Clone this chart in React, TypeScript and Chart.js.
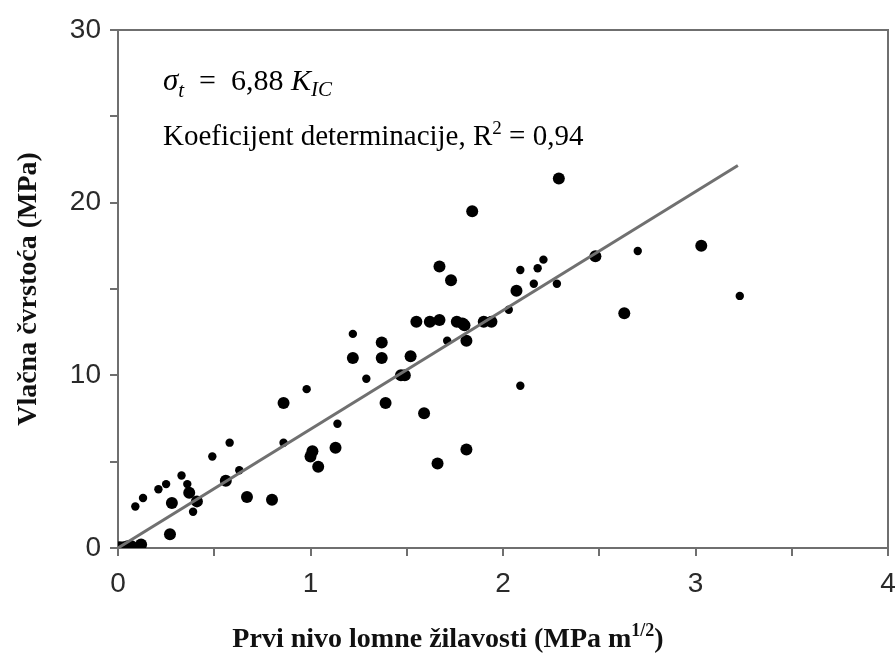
import React, { useEffect, useRef } from "react";
import { Chart, registerables } from "chart.js";

Chart.register(...registerables);

// Large markers
const bigX = [0.01, 0.03, 0.05, 0.07, 0.12, 0.27, 0.28, 0.37, 0.41, 0.56, 0.67, 0.8, 0.86, 1.01, 1.0, 1.04, 1.13, 1.22, 1.37, 1.37, 1.39, 1.52, 1.47, 1.49, 1.59, 1.55, 1.62, 1.67, 1.76, 1.79, 1.8, 1.81, 1.9, 1.94, 1.67, 1.73, 1.84, 2.07, 2.29, 2.48, 3.03, 2.63, 1.81, 1.66];
const bigY = [0.05, 0.05, 0.1, 0.1, 0.2, 0.8, 2.6, 3.2, 2.7, 3.9, 2.95, 2.8, 8.4, 5.6, 5.3, 4.7, 5.8, 11.0, 11.9, 11.0, 8.4, 11.1, 10.0, 10.0, 7.8, 13.1, 13.1, 13.2, 13.1, 13.0, 12.9, 12.0, 13.1, 13.1, 16.3, 15.5, 19.5, 14.9, 21.4, 16.9, 17.5, 13.6, 5.7, 4.9];
// Small markers
const smallX = [0.09, 0.13, 0.21, 0.25, 0.33, 0.36, 0.39, 0.49, 0.58, 0.63, 0.86, 0.98, 1.14, 1.22, 1.29, 1.71, 2.03, 2.09, 2.16, 2.18, 2.21, 2.28, 2.7, 2.09, 3.23];
const smallY = [2.4, 2.9, 3.4, 3.7, 4.2, 3.7, 2.1, 5.3, 6.1, 4.5, 6.1, 9.2, 7.2, 12.4, 9.8, 12.0, 13.8, 16.1, 15.3, 16.2, 16.7, 15.3, 17.2, 9.4, 14.6];
// Regression line sigma_t = 6.88 K_IC
const fitX = [0, 3.22];
const fitY = [0, 22.15];

const xTicks = ["0", "1", "2", "3", "4"];
const yTicks = ["0", "10", "20", "30"];

const AXIS = "#6f6f6f";
const PAD_L = 118, PAD_T = 30, PAD_R = 8, PAD_B = 111;

const framePlugin = {
  id: "frameAndText",
  afterDraw(chart: any) {
    const { ctx, chartArea: a } = chart;
    ctx.save();
    ctx.strokeStyle = AXIS;
    ctx.lineWidth = 2;
    ctx.beginPath();
    ctx.moveTo(a.left, a.top);
    ctx.lineTo(a.right, a.top);
    ctx.lineTo(a.right, a.bottom);
    ctx.stroke();

    ctx.fillStyle = "#000";
    ctx.textBaseline = "alphabetic";
    ctx.textAlign = "left";
    // Equation line
    let x = 163;
    const b1 = 90;
    const seg = (t: string, font: string, dy = 0) => {
      ctx.font = font;
      ctx.fillText(t, x, b1 + dy);
      x += ctx.measureText(t).width;
    };
    seg("σ", "italic 31px 'Liberation Serif'");
    seg("t", "italic 21px 'Liberation Serif'", 7);
    seg("  =  ", "30px 'Liberation Serif'");
    seg("6,88 ", "30px 'Liberation Serif'");
    seg("K", "italic 30px 'Liberation Serif'");
    seg("IC", "italic 21px 'Liberation Serif'", 6);

    // R² line
    x = 163;
    const b2 = 145;
    ctx.font = "29px 'Liberation Serif'";
    const t1 = "Koeficijent determinacije, R";
    ctx.fillText(t1, x, b2);
    x += ctx.measureText(t1).width;
    ctx.font = "19px 'Liberation Serif'";
    ctx.fillText("2", x, b2 - 11);
    x += ctx.measureText("2").width;
    ctx.font = "29px 'Liberation Serif'";
    ctx.fillText(" = 0,94", x, b2);

    // X title
    ctx.fillStyle = "#111";
    const p1 = "Prvi nivo lomne žilavosti (MPa m";
    const sup = "1/2";
    const p3 = ")";
    ctx.font = "bold 28px 'Liberation Serif'";
    const w1 = ctx.measureText(p1).width;
    const w3 = ctx.measureText(p3).width;
    ctx.font = "bold 18px 'Liberation Serif'";
    const w2 = ctx.measureText(sup).width;
    const total = w1 + w2 + w3;
    let tx = 448 - total / 2;
    const tb = 647;
    ctx.font = "bold 28px 'Liberation Serif'";
    ctx.fillText(p1, tx, tb);
    tx += w1;
    ctx.font = "bold 18px 'Liberation Serif'";
    ctx.fillText(sup, tx, tb - 11);
    tx += w2;
    ctx.font = "bold 28px 'Liberation Serif'";
    ctx.fillText(p3, tx, tb);

    // Y title
    ctx.save();
    ctx.translate(36, 289);
    ctx.rotate(-Math.PI / 2);
    ctx.textAlign = "center";
    ctx.font = "bold 28px 'Liberation Serif'";
    ctx.fillText("Vlačna čvrstoća (MPa)", 0, 0);
    ctx.restore();

    ctx.restore();
  },
};

export default function App() {
  const ref = useRef<HTMLCanvasElement>(null);
  useEffect(() => {
    document.body.style.margin = "0";
    const big = bigX.map((v, i) => ({ x: v, y: bigY[i] }));
    const small = smallX.map((v, i) => ({ x: v, y: smallY[i] }));
    const fit = fitX.map((v, i) => ({ x: v, y: fitY[i] }));
    const chart = new Chart(ref.current!, {
      type: "scatter",
      data: {
        datasets: [
          {
            type: "line",
            label: "fit",
            data: fit,
            borderColor: "#707070",
            borderWidth: 3,
            pointRadius: 0,
            fill: false,
          } as any,
          {
            label: "big",
            data: big,
            backgroundColor: "#000",
            borderWidth: 0,
            pointRadius: 6,
          },
          {
            label: "small",
            data: small,
            backgroundColor: "#000",
            borderWidth: 0,
            pointRadius: 4.2,
          },
        ],
      },
      options: {
        animation: false,
        responsive: false,
        layout: { padding: { left: 0, top: PAD_T, right: PAD_R, bottom: 0 } },
        plugins: { legend: { display: false }, tooltip: { enabled: false } },
        scales: {
          x: {
            type: "linear",
            min: 0,
            max: 4,
            afterFit: (s: any) => { s.height = PAD_B; s.paddingLeft = 0; s.paddingRight = 0; },
            ticks: {
              stepSize: 0.5,
              autoSkip: false,
              maxRotation: 0,
              padding: 11,
              color: "#2a2a2a",
              font: { family: "'Liberation Sans', Arial", size: 28 },
              callback: (v: any) => (Number(v) % 1 === 0 ? xTicks[Number(v)] : ""),
            },
            grid: { drawOnChartArea: false, tickLength: 8, color: AXIS, lineWidth: 2 },
            border: { color: AXIS, width: 2 },
          },
          y: {
            type: "linear",
            min: 0,
            max: 30,
            afterFit: (s: any) => { s.width = PAD_L; s.paddingTop = 0; s.paddingBottom = 0; },
            ticks: {
              stepSize: 5,
              autoSkip: false,
              padding: 9,
              color: "#2a2a2a",
              font: { family: "'Liberation Sans', Arial", size: 28 },
              callback: (v: any) => (Number(v) % 10 === 0 ? yTicks[Number(v) / 10] : ""),
            },
            grid: { drawOnChartArea: false, tickLength: 8, color: AXIS, lineWidth: 2 },
            border: { color: AXIS, width: 2 },
          },
        },
      },
      plugins: [framePlugin],
    });
    return () => chart.destroy();
  }, []);
  return (
    <div style={{ width: 896, height: 659, position: "relative", background: "#fff" }}>
      <canvas ref={ref} width={896} height={659} style={{ display: "block" }} />
    </div>
  );
}
